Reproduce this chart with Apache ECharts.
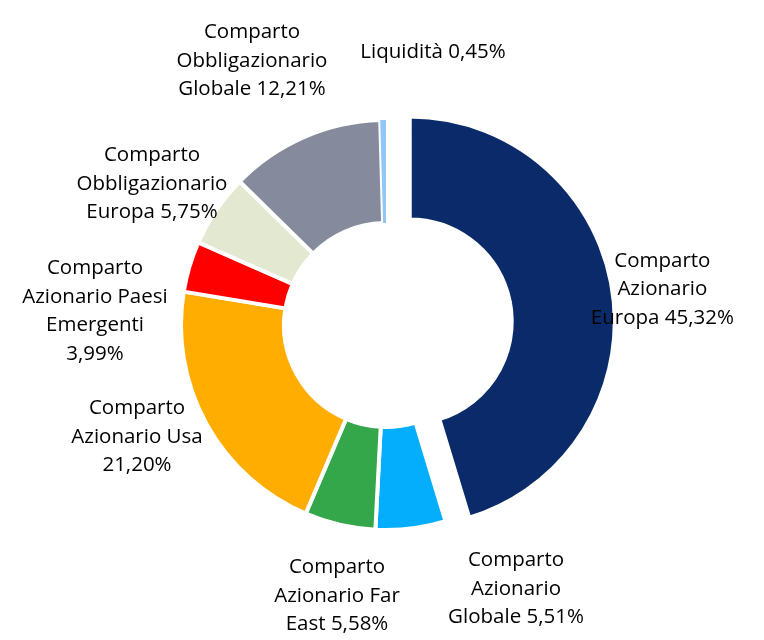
<!DOCTYPE html>
<html>
<head>
<meta charset="utf-8">
<script src="https://cdn.jsdelivr.net/npm/echarts@6/dist/echarts.min.js"></script>
<style>
html,body{margin:0;padding:0;background:#fff;}
#chart{width:764px;height:640px;}
</style>
</head>
<body>
<div id="chart"></div>
<script>
// Data (clockwise from 12 o'clock)
var categories = [
  'Comparto\nAzionario\nEuropa',
  'Comparto\nAzionario\nGlobale',
  'Comparto\nAzionario Far\nEast',
  'Comparto\nAzionario Usa\n',
  'Comparto\nAzionario Paesi\nEmergenti\n',
  'Comparto\nObbligazionario\nEuropa',
  'Comparto\nObbligazionario\nGlobale',
  'Liquidità'
];
var values = [45.32, 5.51, 5.58, 21.20, 3.99, 5.75, 12.21, 0.45];
var colors = ['#0A2A69', '#05ADFD', '#33A74A', '#FFAD00', '#FF0000', '#E3E8D1', '#858A9D', '#8FC7F7'];

// label centre positions (layout only)
var labelPos = [
  [680, 285], [516, 589], [337, 596], [137, 437],
  [95, 311], [152, 184], [252, 61], [433, 52]
];

function fmt(v) { return v.toFixed(2).replace('.', ',') + '%'; }

var chart = echarts.init(document.getElementById('chart'));
chart.setOption({
  animation: false,
  series: [{
    type: 'pie',
    center: [386, 325],
    radius: [102, 205],
    startAngle: 90,
    clockwise: true,
    selectedMode: 'single',
    selectedOffset: 24,
    emphasis: { disabled: true },
    itemStyle: { borderColor: '#fff', borderWidth: 4 },
    label: {
      show: true,
      position: 'outside',
      color: '#000',
      fontFamily: '"Open Sans", sans-serif',
      fontSize: 20.5,
      lineHeight: 28.5,
      align: 'center',
      overflow: 'none',
      width: 220,
      formatter: function (p) {
        var n = p.name;
        if (n.charAt(n.length - 1) === '\n') return n + fmt(p.value);
        return n + ' ' + fmt(p.value);
      }
    },
    labelLine: { show: false },
    labelLayout: function (p) {
      var pos = labelPos[p.dataIndex];
      return { x: pos[0], y: pos[1], align: 'center', verticalAlign: 'middle' };
    },
    data: values.map(function (v, i) {
      var item = {
        name: categories[i],
        value: v,
        selected: i === 0,
        itemStyle: { color: colors[i] }
      };
      if (i === values.length - 1) item.itemStyle.borderWidth = 0;
      return item;
    })
  }]
});
</script>
</body>
</html>
